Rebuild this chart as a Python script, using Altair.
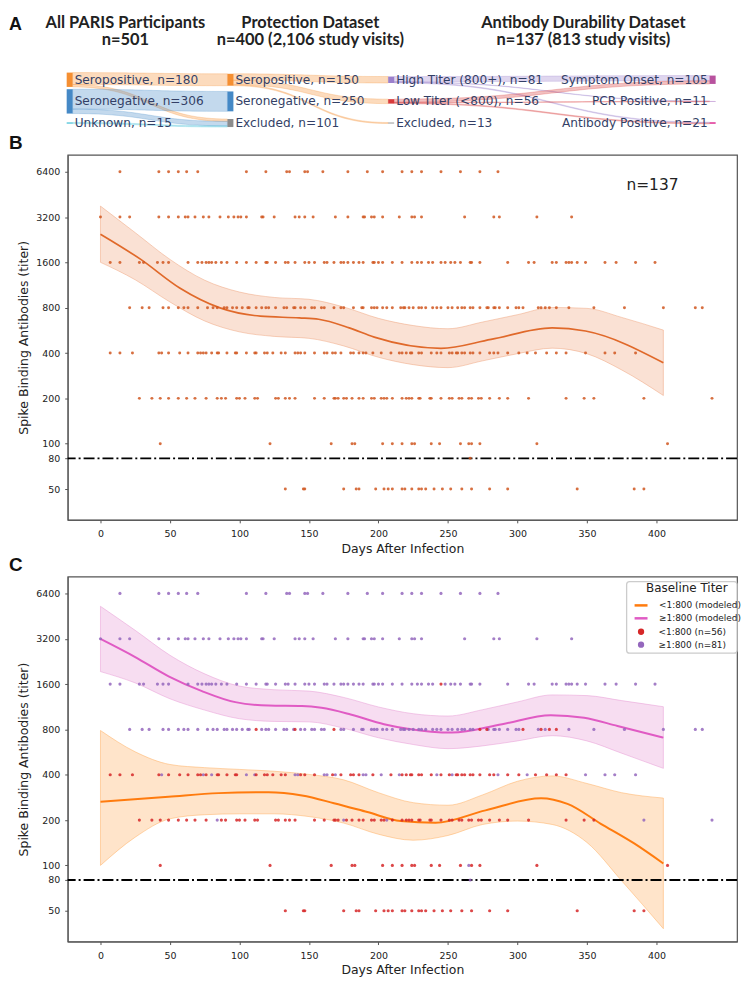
import numpy as np
import pandas as pd
import altair as alt

# ---------------- Panel A data (flow diagram) ----------------
NODE_LABELS = ["Seropositive, n=180", "Seronegative, n=306", "Unknown, n=15",
               "Seropositive, n=150", "Seronegative, n=250", "Excluded, n=101",
               "High Titer (800+), n=81", "Low Titer (<800), n=56", "Excluded, n=13",
               "Symptom Onset, n=105", "PCR Positive, n=11", "Antibody Positive, n=21"]
NODE_COUNTS = [180, 306, 15, 150, 250, 101, 81, 56, 13, 105, 11, 21]
NODE_STAGE = [0, 0, 0, 1, 1, 1, 2, 2, 2, 4, 4, 4]
NODE_ROW = [0, 1, 2, 0, 1, 2, 0, 1, 2, 0, 1, 2]
NODE_COLORS = ["#f58f32", "#4589c6", "#3fbfd6", "#f58f32", "#4589c6", "#8c8c8c",
               "#9b80cc", "#d83b3b", "#9a9a9a", "#b8529e", "#c7a3d8", "#e2449e"]
FLOW_SOURCE = [0, 0, 1, 1, 2, 3, 3, 3, 6, 6, 6, 7, 7, 7]
FLOW_TARGET = [3, 5, 4, 5, 5, 6, 7, 8, 9, 10, 11, 9, 10, 11]
FLOW_VALUE = [150, 30, 250, 56, 15, 81, 56, 13, 66, 5, 10, 39, 6, 11]
STAGE_TITLES = ["All PARIS Participants", "Protection Dataset", "Antibody Durability Dataset"]
STAGE_SUBTITLES = ["n=501", "n=400 (2,106 study visits)", "n=137 (813 study visits)"]

# ---------------- Panels B/C data ----------------
TITER_TICKS = [50, 80, 100, 200, 400, 800, 1600, 3200, 6400]

HI_6400 = [14, 42, 49, 56, 62, 70, 105, 119, 134, 136, 147, 149, 160, 178, 192, 203, 217,
           224, 231, 245, 259, 273, 286]
HI_3200 = [0, 14, 21, 42, 49, 56, 61, 63, 68, 74, 78, 86, 92, 96, 99, 101, 105, 116, 117, 125,
           140, 143, 147, 153, 169, 178, 189, 190, 195, 197, 203, 215, 224, 226, 231, 262, 283,
           287, 314, 339]
HI_1600 = [7, 14, 28, 31, 41, 45, 49, 63, 70, 73, 76, 78, 80, 83, 87, 91, 98, 105, 112, 119,
           120, 126, 133, 135, 140, 147, 150, 154, 161, 163, 168, 173, 175, 178, 182, 186, 189,
           196, 197, 200, 203, 210, 217, 224, 228, 231, 236, 239, 248, 252, 255, 259, 266, 267,
           273, 293, 308, 312, 325, 328, 335, 337, 339, 343, 349, 363, 371, 385, 399]
LO_1600 = [245]
HI_800 = [21, 30, 35, 45, 49, 56, 60, 63, 70, 77, 81, 84, 89, 91, 95, 98, 102, 106, 107, 116,
          119, 121, 126, 132, 134, 139, 144, 147, 152, 154, 159, 161, 173, 175, 182, 188, 189,
          195, 197, 199, 203, 206, 210, 216, 218, 219, 222, 225, 229, 231, 234, 239, 242, 245,
          250, 253, 257, 260, 262, 266, 268, 279, 283, 284, 287, 293, 299, 301, 315, 320, 337,
          355, 377, 405, 428, 433]
LO_800 = [112, 140, 168, 273, 278, 304, 317, 323, 328]
HI_400 = [44, 74, 80, 105, 111, 140, 142, 161, 163, 169, 189, 191, 202, 215, 242, 253, 286,
          307, 349, 363, 370, 385]
LO_400 = [7, 14, 23, 42, 49, 57, 63, 70, 72, 76, 84, 85, 91, 97, 98, 112, 118, 120, 124, 130,
          133, 144, 147, 154, 167, 173, 180, 182, 186, 196, 209, 217, 220, 223, 224, 229, 231,
          238, 245, 251, 256, 257, 260, 262, 266, 268, 273, 280, 283, 293, 301, 313, 321, 328, 335]
HI_200 = [84, 175, 206, 391, 440]
LO_200 = [28, 37, 43, 49, 56, 62, 68, 76, 87, 90, 98, 100, 104, 111, 113, 126, 128, 133, 136,
          140, 154, 161, 168, 169, 171, 177, 181, 186, 189, 195, 197, 202, 204, 210, 217, 220,
          222, 224, 229, 230, 237, 238, 245, 251, 253, 258, 260, 265, 267, 272, 274, 280, 287,
          293, 308, 335, 348, 355]
HI_100 = [265]
LO_100 = [43, 122, 166, 181, 183, 203, 210, 217, 224, 226, 238, 244, 259, 267, 273, 314, 408]
HI_80 = [266]
LO_50 = [133, 146, 147, 175, 184, 186, 198, 204, 207, 210, 217, 219, 224, 229, 231, 234, 240,
         246, 252, 260, 267, 280, 293, 343, 384, 391]

BAND_DAYS = [0, 25, 50, 75, 100, 125, 150, 175, 200, 225, 250, 275, 300, 325, 350, 375, 405]

# Panel B model
B_FIT_DAYS = [0, 29, 57, 86, 115, 143, 157, 179, 197, 245, 281, 325, 349, 405]
B_FIT = [2463, 1675, 1082, 798, 703, 685, 671, 588, 510, 430, 493, 588, 560, 345]
B_LOW = [1602, 1226, 873, 653, 553, 516, 501, 446, 375, 335, 320, 355, 396, 431, 396, 309, 209]
B_UP = [3784, 2521, 1675, 1218, 1017, 936, 910, 809, 680, 609, 580, 643, 719, 803, 792, 690, 568]

# Panel C models
LO_FIT_DAYS = [0, 49, 85, 121, 145, 168, 192, 216, 241, 277, 317, 336, 360, 384, 405]
LO_FIT = [265, 286, 302, 306, 291, 259, 226, 197, 192, 232, 279, 256, 189, 140, 103]
LO_LOW = [100, 154, 204, 217, 220, 220, 211, 191, 161, 147, 158, 187, 197, 187, 142, 79, 38]
LO_UP = [787, 568, 468, 446, 434, 422, 402, 370, 304, 261, 251, 294, 362, 393, 350, 304, 280]
HI_FIT_DAYS = [0, 25, 49, 73, 97, 121, 145, 159, 180, 204, 221, 253, 289, 324, 348, 372, 405]
HI_FIT = [3191, 2418, 1802, 1438, 1214, 1152, 1144, 1113, 1006, 867, 809, 762, 867, 993, 955, 843, 706]
HI_LOW = [1937, 1629, 1278, 1075, 942, 904, 898, 815, 704, 635, 596, 622, 671, 727, 671, 556, 441]
HI_UP = [5256, 3640, 2487, 1871, 1552, 1468, 1438, 1305, 1128, 1017, 982, 1082, 1218, 1356, 1342, 1243, 1132]

LINE_SERIES = ["<1:800 (modeled)", "\u22651:800 (modeled)"]
LINE_COLORS = ["#ff7b0e", "#e05bc4"]
PT_SERIES = ["<1:800 (n=56)", "\u22651:800 (n=81)"]
PT_COLORS = ["#d62728", "#9467bd"]

# ---------------- build tables ----------------
pt_rows = []
for titer, hi, lo in [(6400, HI_6400, []), (3200, HI_3200, []), (1600, HI_1600, LO_1600),
                      (800, HI_800, LO_800), (400, HI_400, LO_400), (200, HI_200, LO_200),
                      (100, HI_100, LO_100), (80, HI_80, []), (50, [], LO_50)]:
    for d in hi:
        pt_rows.append({"day": d, "titer": titer, "grp": PT_SERIES[1]})
    for d in lo:
        pt_rows.append({"day": d, "titer": titer, "grp": PT_SERIES[0]})
points = pd.DataFrame(pt_rows)

bandB = pd.DataFrame({"day": BAND_DAYS, "lower": B_LOW, "upper": B_UP})
fitB = pd.DataFrame({"day": B_FIT_DAYS, "fit": B_FIT})
bandLo = pd.DataFrame({"day": BAND_DAYS, "lower": LO_LOW, "upper": LO_UP})
bandHi = pd.DataFrame({"day": BAND_DAYS, "lower": HI_LOW, "upper": HI_UP})
fitC = pd.concat([
    pd.DataFrame({"day": LO_FIT_DAYS, "fit": LO_FIT, "series": LINE_SERIES[0]}),
    pd.DataFrame({"day": HI_FIT_DAYS, "fit": HI_FIT, "series": LINE_SERIES[1]}),
])
cutoff = pd.DataFrame({"titer": [80]})
one = pd.DataFrame({"k": [0]})

# ---------------- layout constants (pixels) ----------------
ORIGIN_X = 67            # absolute x of the plot areas' left edge
W, H = 673, 367          # plot areas of panels B and C
A_H = 88
SPACING = 57
C_OFFSET_Y = A_H + SPACING + H + SPACING   # C origin relative to panel A origin

# ---------------- Panel A layout ----------------
PX_PER_PERSON = 0.08
ROW_Y0, ROW_GAP = 69.5, 21.75
STAGE_PX = [2, 648.5]
NODE_W = 6
unit_h = A_H / PX_PER_PERSON
half = (NODE_W / 2) / ((STAGE_PX[1] - STAGE_PX[0]) / 4)
row_c = [(ROW_Y0 + r * ROW_GAP) / PX_PER_PERSON for r in NODE_ROW]
node_top = [c - n / 2 for c, n in zip(row_c, NODE_COUNTS)]
nodes = pd.DataFrame({
    "label": NODE_LABELS, "stage": NODE_STAGE, "yc": row_c,
    "top": node_top, "bottom": [t + n for t, n in zip(node_top, NODE_COUNTS)],
    "x0": [s - half for s in NODE_STAGE], "x1": [s + half for s in NODE_STAGE],
    "color": NODE_COLORS,
})
out_off = [0] * len(NODE_LABELS)
in_off = [0] * len(NODE_LABELS)
flow_rows = []
ts = np.linspace(0, 1, 41)
for k, (s, t, v) in enumerate(zip(FLOW_SOURCE, FLOW_TARGET, FLOW_VALUE)):
    x0, x1 = NODE_STAGE[s] + half, NODE_STAGE[t] - half
    xm = (x0 + x1) / 2
    y0 = node_top[s] + out_off[s]
    y1 = node_top[t] + in_off[t]
    out_off[s] += v
    in_off[t] += v
    for tt in ts:
        bx = (1 - tt) ** 3 * x0 + 3 * (1 - tt) ** 2 * tt * xm + 3 * (1 - tt) * tt ** 2 * xm + tt ** 3 * x1
        by = y0 + (y1 - y0) * (3 * tt ** 2 - 2 * tt ** 3)
        flow_rows.append({"fid": k, "x": bx, "top": by, "bottom": by + v, "color": NODE_COLORS[s]})
flows = pd.DataFrame(flow_rows)

SX_A = alt.Scale(domain=[0, 4], range=STAGE_PX)
SY_A = alt.Scale(domain=[0, unit_h], range=[0, A_H])
LABEL_COLOR = "#333f66"

flow_layer = alt.Chart(flows).mark_area(fillOpacity=0.32, strokeOpacity=0.45, strokeWidth=0.6).encode(
    x=alt.X("x:Q", scale=SX_A, axis=None),
    y=alt.Y("top:Q", scale=SY_A, axis=None),
    y2="bottom:Q",
    fill=alt.Fill("color:N", scale=None),
    stroke=alt.Stroke("color:N", scale=None),
    detail="fid:N",
)
node_layer = alt.Chart(nodes).mark_rect().encode(
    x=alt.X("x0:Q", scale=SX_A, axis=None), x2="x1:Q",
    y=alt.Y("top:Q", scale=SY_A, axis=None), y2="bottom:Q",
    color=alt.Color("color:N", scale=None),
)
lab_left = alt.Chart(nodes[nodes.stage < 4]).mark_text(
    align="left", baseline="middle", dx=5, font="DejaVu Sans", fontSize=12.2, color=LABEL_COLOR
).encode(x=alt.X("stage:Q", scale=SX_A, axis=None), y=alt.Y("yc:Q", scale=SY_A, axis=None), text="label:N")
lab_right = alt.Chart(nodes[nodes.stage == 4]).mark_text(
    align="right", baseline="middle", dx=-5, font="DejaVu Sans", fontSize=12.2, color=LABEL_COLOR
).encode(x=alt.X("stage:Q", scale=SX_A, axis=None), y=alt.Y("yc:Q", scale=SY_A, axis=None), text="label:N")

title_layers = []
for t1, t2, cx in zip(STAGE_TITLES, STAGE_SUBTITLES, [58, 244, 518.5]):
    for txt, cy in [(t1, 12), (t2, 30)]:
        title_layers.append(alt.Chart(one).mark_text(
            text=txt, align="center", baseline="middle",
            font="Lato", fontWeight="bold", fontSize=16.5, color="#222222"
        ).encode(x=alt.value(cx), y=alt.value(cy)))
letterA = alt.Chart(one).mark_text(text="A", align="left", baseline="middle", font="Liberation Sans",
                                   fontWeight="bold", fontSize=18, color="#111").encode(
    x=alt.value(8 - ORIGIN_X), y=alt.value(14))

panelA = alt.layer(flow_layer, node_layer, lab_left, lab_right, *title_layers, letterA).properties(
    width=W, height=A_H, view=alt.ViewBackground(strokeWidth=0))

# ---------------- Panels B and C ----------------
X_SCALE = alt.Scale(domain=[-23.6, 458], nice=False, zero=False)
Y_SCALE = alt.Scale(type="log", base=2, domain=[31.2, 8287], nice=False)
AX_COMMON = dict(grid=False, tickSize=3, labelFont="DejaVu Sans", titleFont="DejaVu Sans",
                 titleFontWeight="normal", labelColor="#222", titleColor="#222",
                 domainColor="#555", tickColor="#555", labelFontSize=9.5)
X_AXIS = alt.Axis(values=list(range(0, 401, 50)), title="Days After Infection", labelPadding=6,
                  titlePadding=4, titleFontSize=12.5, **AX_COMMON)
Y_AXIS = alt.Axis(values=TITER_TICKS, format="d", title="Spike Binding Antibodies (titer)",
                  labelPadding=5, titlePadding=5, titleFontSize=12.5, **AX_COMMON)


def xe(f="day"):
    return alt.X(f + ":Q", scale=X_SCALE, axis=X_AXIS)


def ye(f):
    return alt.Y(f + ":Q", scale=Y_SCALE, axis=Y_AXIS)


def band(df, col):
    return alt.Chart(df).mark_area(interpolate="monotone", fill=col, stroke=col, fillOpacity=0.3,
                                   strokeOpacity=0.45, strokeWidth=1).encode(
        x=xe(), y=ye("lower"), y2="upper:Q")


rule = alt.Chart(cutoff).mark_rule(color="black", strokeWidth=1.8, strokeDash=[11, 3, 2, 3]).encode(y=ye("titer"))


def letter(ch):
    return alt.Chart(one).mark_text(text=ch, align="left", baseline="middle", font="Liberation Sans",
                                    fontWeight="bold", fontSize=19, color="#111").encode(
        x=alt.value(8 - ORIGIN_X), y=alt.value(-12))


lineB = alt.Chart(fitB).mark_line(interpolate="monotone", color="#e0692a", strokeWidth=1.7).encode(x=xe(), y=ye("fit"))
ptsB = alt.Chart(points).mark_circle(size=9, color="#d0561f", opacity=0.85).encode(x=xe(), y=ye("titer"))
nB = alt.Chart(one).mark_text(text="n=137", font="DejaVu Sans", fontSize=15.5, color="#222").encode(
    x=alt.value(655 - ORIGIN_X), y=alt.value(30))
panelB = alt.layer(band(bandB, "#ee9b70"), rule, lineB, ptsB, nB, letter("B")).properties(
    width=W, height=H, view=alt.ViewBackground(stroke="#555", strokeWidth=1.2))

linesC = alt.Chart(fitC).mark_line(interpolate="monotone", strokeWidth=2).encode(
    x=xe(), y=ye("fit"),
    stroke=alt.Stroke("series:N", scale=alt.Scale(domain=LINE_SERIES, range=LINE_COLORS),
                      legend=alt.Legend(title="Baseline Titer", orient="none", legendX=642 - ORIGIN_X - 6.5,
                                        legendY=C_OFFSET_Y + 7,
                                        symbolType="stroke", symbolSize=169, symbolStrokeWidth=2.5,
                                        labelFont="DejaVu Sans", labelFontSize=9, labelColor="#222",
                                        titleFont="DejaVu Sans", titleFontSize=12, titleFontWeight="normal",
                                        titleColor="#222", titleAnchor="middle", titlePadding=2,
                                        rowPadding=0, labelOffset=10, padding=0)),
)
ptsC = alt.Chart(points).mark_circle(size=10, opacity=0.85).encode(
    x=xe(), y=ye("titer"),
    fill=alt.Fill("grp:N", scale=alt.Scale(domain=PT_SERIES, range=PT_COLORS),
                  legend=alt.Legend(title=None, orient="none", legendX=642 - ORIGIN_X - 3,
                                    legendY=C_OFFSET_Y + 51,
                                    symbolType="circle", symbolSize=40, symbolOpacity=1,
                                    labelFont="DejaVu Sans", labelFontSize=9, labelColor="#222",
                                    rowPadding=3, labelOffset=13, padding=0)),
)
legend_box = alt.Chart(one).mark_rect(fill="white", stroke="#cccccc", strokeWidth=1.3, cornerRadius=3).encode(
    x=alt.value(629 - ORIGIN_X), x2=alt.value(740 - ORIGIN_X), y=alt.value(5), y2=alt.value(77))
panelC = alt.layer(band(bandLo, "#ffa54f"), band(bandHi, "#e58fd0"), rule, linesC, ptsC, legend_box,
                   letter("C")).properties(
    width=W, height=H, view=alt.ViewBackground(stroke="#555", strokeWidth=1.2))

chart = alt.vconcat(panelA, panelB, panelC, spacing=SPACING, bounds="flush", padding=0).configure_view(
    strokeWidth=0).resolve_scale(x="independent", y="independent")

chart.save("out.html", embed_options={"renderer": "svg", "actions": False})
